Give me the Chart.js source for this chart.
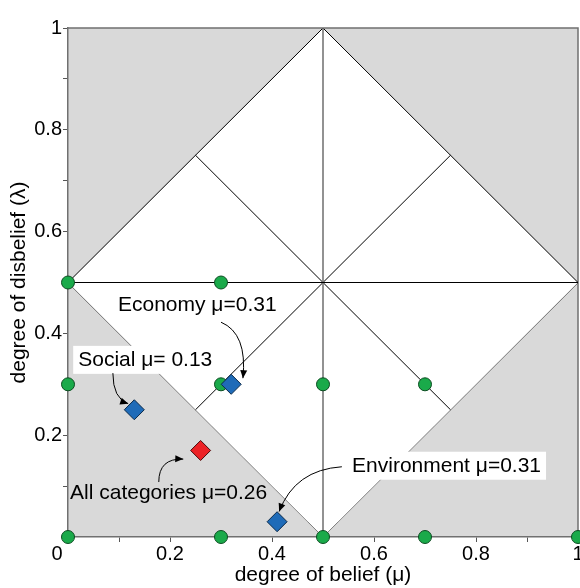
<!DOCTYPE html>
<html>
<head>
<meta charset="utf-8">
<script src="https://cdn.jsdelivr.net/npm/chart.js@4.4.1/dist/chart.umd.min.js"></script>
<style>
    body { margin: 0; background: #fff; }
</style>
</head>
<body>
<canvas id="grafico" width="580" height="588"></canvas>
<script>
// pontos de referencia (circulos verdes)
var refX = [0, 0.3, 0, 0.3, 0.5, 0.7, 0, 0.3, 0.5, 0.7, 1];
var refY = [0.5, 0.5, 0.3, 0.3, 0.3, 0.3, 0, 0, 0, 0, 0];

// categorias (losangos azuis) e total (losango vermelho)
var categorias = ['Economy', 'Social', 'Environment'];
var catX = [0.32, 0.13, 0.41];
var catY = [0.30, 0.25, 0.03];
var totalX = [0.26];
var totalY = [0.17];

// regiao branca
var topoX = [0, 0.5, 1];
var topoY = [0.5, 1, 0.5];
var baseX = [0, 0.5, 1];
var baseY = [0.5, 0, 0.5];

// linhas internas
var horizX = [0, 1];
var horizY = [0.5, 0.5];
var vertX = [0.5, 0.5];
var vertY = [0, 1];
var diag1X = [0.25, 0.75];
var diag1Y = [0.25, 0.75];
var diag2X = [0.25, 0.75];
var diag2Y = [0.75, 0.25];

var tickValores = [0.2, 0.4, 0.6, 0.8, 1];
var tickRotulos = ['0.2', '0.4', '0.6', '0.8', '1'];

var rotulos = ['Economy μ=0.31', 'Social μ= 0.13', 'All categories μ=0.26', 'Environment μ=0.31'];

function pares(xs, ys) {
    return xs.map(function (x, i) { return { x: x, y: ys[i] }; });
}

function linha(xs, ys, cor, largura) {
    return {
        data: pares(xs, ys),
        borderColor: cor,
        borderWidth: largura,
        pointRadius: 0,
        fill: false,
        order: 5
    };
}

// posicoes das notas (em unidades dos eixos)
var notas = [
    { texto: rotulos[0], x: 0.098, y: 0.456, caixa: false, seta: [[0.300, 0.422], [0.352, 0.400], [0.343, 0.312]] },
    { texto: rotulos[1], x: 0.020, y: 0.348, caixa: true, seta: [[0.088, 0.322], [0.088, 0.272], [0.118, 0.262]] },
    { texto: rotulos[2], x: 0.004, y: 0.086, caixa: false, seta: [[0.178, 0.108], [0.178, 0.155], [0.226, 0.153]] },
    { texto: rotulos[3], x: 0.557, y: 0.140, caixa: true, seta: [[0.537, 0.138], [0.445, 0.132], [0.414, 0.050]] }
];

var fonte = '"Liberation Sans", Arial, sans-serif';

var fundo = {
    id: 'fundo',
    beforeDraw: function (chart) {
        var a = chart.chartArea;
        var ctx = chart.ctx;
        ctx.save();
        ctx.fillStyle = '#d9d9d9';
        ctx.fillRect(a.left, a.top, a.right - a.left, a.bottom - a.top);
        ctx.restore();
    },
    beforeDatasetsDraw: function (chart) {
        var a = chart.chartArea;
        var ctx = chart.ctx;
        ctx.save();
        ctx.strokeStyle = '#707070';
        ctx.lineWidth = 1.5;
        ctx.beginPath();
        ctx.moveTo(a.left, a.top);
        ctx.lineTo(a.right, a.top);
        ctx.lineTo(a.right, a.bottom);
        ctx.stroke();
        ctx.restore();
    },
    afterDatasetsDraw: function (chart) {
        var ctx = chart.ctx;
        var sx = chart.scales.x;
        var sy = chart.scales.y;
        ctx.save();
        ctx.font = '21px ' + fonte;
        ctx.textBaseline = 'middle';
        ctx.textAlign = 'left';
        notas.forEach(function (n) {
            var px = sx.getPixelForValue(n.x);
            var py = sy.getPixelForValue(n.y);
            var w = ctx.measureText(n.texto).width;
            if (n.caixa) {
                ctx.fillStyle = '#fff';
                ctx.fillRect(px - 5, py - 14, w + 10, 28);
            }
            ctx.fillStyle = '#000';
            ctx.fillText(n.texto, px, py);

            var p0 = [sx.getPixelForValue(n.seta[0][0]), sy.getPixelForValue(n.seta[0][1])];
            var p1 = [sx.getPixelForValue(n.seta[1][0]), sy.getPixelForValue(n.seta[1][1])];
            var p2 = [sx.getPixelForValue(n.seta[2][0]), sy.getPixelForValue(n.seta[2][1])];
            ctx.strokeStyle = '#000';
            ctx.lineWidth = 1;
            ctx.beginPath();
            ctx.moveTo(p0[0], p0[1]);
            ctx.quadraticCurveTo(p1[0], p1[1], p2[0], p2[1]);
            ctx.stroke();
            var ang = Math.atan2(p2[1] - p1[1], p2[0] - p1[0]);
            ctx.beginPath();
            ctx.moveTo(p2[0], p2[1]);
            ctx.lineTo(p2[0] - 8 * Math.cos(ang) + 3.5 * Math.sin(ang), p2[1] - 8 * Math.sin(ang) - 3.5 * Math.cos(ang));
            ctx.lineTo(p2[0] - 8 * Math.cos(ang) - 3.5 * Math.sin(ang), p2[1] - 8 * Math.sin(ang) + 3.5 * Math.cos(ang));
            ctx.closePath();
            ctx.fillStyle = '#000';
            ctx.fill();
        });
        // rotulo da origem
        ctx.font = '20px ' + fonte;
        ctx.textAlign = 'center';
        ctx.fillText('0', sx.getPixelForValue(0) - 11, sy.getPixelForValue(0) + 17);
        ctx.restore();
    }
};

var canvas = document.getElementById('grafico');

var grafico = new Chart(canvas, {
    type: 'line',
    data: {
        datasets: [
            {
                data: pares(topoX, topoY),
                borderColor: '#000',
                borderWidth: 1,
                pointRadius: 0,
                backgroundColor: '#ffffff',
                fill: 1,
                order: 6
            },
            {
                data: pares(baseX, baseY),
                borderColor: '#000',
                borderWidth: 1,
                pointRadius: 0,
                fill: false,
                order: 6
            },
            linha(horizX, horizY, '#000', 1),
            linha(vertX, vertY, '#777', 1.6),
            linha(diag1X, diag1Y, '#000', 1),
            linha(diag2X, diag2Y, '#000', 1),
            {
                data: pares(refX, refY),
                showLine: false,
                pointStyle: 'circle',
                pointRadius: 6.5,
                pointBackgroundColor: '#1aaa4a',
                pointBorderColor: '#0d4d22',
                pointBorderWidth: 1,
                clip: false,
                order: 3
            },
            {
                data: pares(catX, catY),
                showLine: false,
                pointStyle: 'rectRot',
                pointRadius: 10,
                pointBackgroundColor: '#1f6bb8',
                pointBorderColor: '#0b2a4a',
                pointBorderWidth: 1,
                clip: false,
                order: 2
            },
            {
                data: pares(totalX, totalY),
                showLine: false,
                pointStyle: 'rectRot',
                pointRadius: 10,
                pointBackgroundColor: '#ec2226',
                pointBorderColor: '#4a0b0b',
                pointBorderWidth: 1,
                clip: false,
                order: 1
            }
        ]
    },
    options: {
        responsive: false,
        animation: false,
        layout: { autoPadding: false, padding: { top: 28, right: 2, left: 0, bottom: 0 } },
        plugins: {
            legend: { display: false },
            tooltip: { enabled: false }
        },
        scales: {
            x: {
                type: 'linear',
                min: 0,
                max: 1,
                afterFit: function (s) {
                    s.height = 51;
                    s.paddingLeft = 0;
                    s.paddingRight = 0;
                },
                afterBuildTicks: function (s) {
                    s.ticks = [0, 0.1, 0.2, 0.3, 0.4, 0.5, 0.6, 0.7, 0.8, 0.9, 1].map(function (v) { return { value: v }; });
                },
                ticks: {
                    autoSkip: false,
                    maxRotation: 0,
                    padding: 0,
                    color: '#000',
                    font: { family: fonte, size: 20 },
                    callback: function (v) {
                        var i = tickValores.findIndex(function (t) { return Math.abs(t - v) < 1e-6; });
                        return i >= 0 ? tickRotulos[i] : '';
                    }
                },
                grid: { drawOnChartArea: false, tickLength: 5, color: '#555' },
                border: { color: '#707070', width: 1.5 },
                title: {
                    display: true,
                    text: 'degree of belief (μ)',
                    color: '#000',
                    font: { family: fonte, size: 21 },
                    padding: { top: 0, bottom: 0 }
                }
            },
            y: {
                min: 0,
                max: 1,
                afterFit: function (s) {
                    s.width = 68;
                    s.paddingTop = 0;
                    s.paddingBottom = 0;
                },
                afterBuildTicks: function (s) {
                    s.ticks = [0, 0.1, 0.2, 0.3, 0.4, 0.5, 0.6, 0.7, 0.8, 0.9, 1].map(function (v) { return { value: v }; });
                },
                ticks: {
                    autoSkip: false,
                    padding: 1,
                    color: '#000',
                    font: { family: fonte, size: 20 },
                    callback: function (v) {
                        var i = tickValores.findIndex(function (t) { return Math.abs(t - v) < 1e-6; });
                        return i >= 0 ? tickRotulos[i] : '';
                    }
                },
                grid: { drawOnChartArea: false, tickLength: 5, color: '#555' },
                border: { color: '#707070', width: 1.5 },
                title: {
                    display: true,
                    text: 'degree of disbelief (λ)',
                    color: '#000',
                    font: { family: fonte, size: 21 },
                    padding: { top: 7, bottom: 0 }
                }
            }
        }
    },
    plugins: [fundo]
});
</script>
</body>
</html>
